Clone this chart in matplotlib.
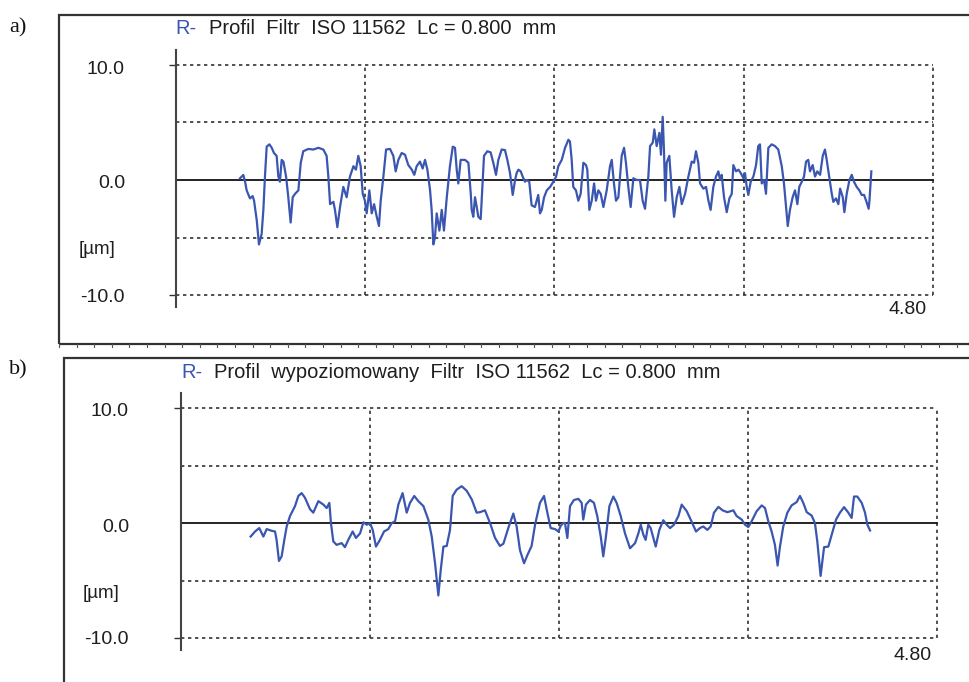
import matplotlib
matplotlib.use("Agg")
import matplotlib.pyplot as plt
from matplotlib.patches import Rectangle
from matplotlib.lines import Line2D

# ---------------- data ----------------
# Panel a: R-profile (Filtr ISO 11562, Lc = 0.800 mm); x in mm, z in µm
xa = [0.406, 0.427, 0.438, 0.448, 0.469, 0.486, 0.495, 0.512, 0.526, 0.543, 0.554, 0.564,
      0.575, 0.592, 0.607, 0.621, 0.638, 0.649, 0.659, 0.670, 0.681, 0.698, 0.712, 0.727,
      0.740, 0.755, 0.776, 0.791, 0.807, 0.839, 0.871, 0.903, 0.934, 0.955, 0.966, 0.977,
      0.998, 1.008, 1.023, 1.040, 1.061, 1.082, 1.103, 1.125, 1.141, 1.156, 1.171, 1.184,
      1.198, 1.209, 1.226, 1.241, 1.256, 1.273, 1.287, 1.298, 1.315, 1.332, 1.357, 1.378,
      1.393, 1.410, 1.431, 1.452, 1.473, 1.495, 1.511, 1.526, 1.547, 1.564, 1.579, 1.594,
      1.611, 1.621, 1.632, 1.642, 1.653, 1.670, 1.685, 1.699, 1.717, 1.737, 1.755, 1.769,
      1.780, 1.790, 1.805, 1.833, 1.854, 1.869,
      1.875, 1.885, 1.896, 1.907, 1.917, 1.932, 1.945, 1.953, 1.974, 1.995, 2.012, 2.029,
      2.044, 2.065, 2.086, 2.101, 2.118, 2.135, 2.150, 2.160, 2.171, 2.186, 2.198, 2.213,
      2.224, 2.240, 2.255, 2.276, 2.297, 2.308, 2.319, 2.334, 2.351, 2.372, 2.393, 2.410,
      2.424, 2.446, 2.467, 2.488, 2.498, 2.509, 2.519, 2.536, 2.551, 2.566, 2.583, 2.600,
      2.608, 2.621, 2.636, 2.651, 2.663, 2.678, 2.693, 2.710, 2.731, 2.752, 2.763, 2.777,
      2.790, 2.805, 2.826, 2.841, 2.853, 2.868, 2.883, 2.900, 2.921, 2.942, 2.959, 2.974,
      2.995, 3.006, 3.023, 3.033, 3.048, 3.065, 3.075, 3.086, 3.094, 3.103, 3.111, 3.128,
      3.143, 3.158, 3.175, 3.192, 3.207, 3.228, 3.249, 3.270, 3.285, 3.297, 3.312, 3.323,
      3.344, 3.361, 3.376, 3.390, 3.407, 3.424, 3.439, 3.450, 3.460, 3.475, 3.492, 3.509,
      3.524, 3.534, 3.551, 3.566, 3.581, 3.598, 3.608, 3.619, 3.629, 3.644, 3.661, 3.678,
      3.692, 3.703, 3.714, 3.729, 3.741, 3.756, 3.777, 3.798, 3.819, 3.841, 3.855, 3.868,
      3.879, 3.893, 3.910, 3.925, 3.940, 3.952, 3.968, 3.982, 3.995, 4.009, 4.020, 4.037,
      4.052, 4.066, 4.084, 4.101, 4.115, 4.126, 4.143, 4.158, 4.168, 4.185, 4.200, 4.211,
      4.228, 4.238, 4.253, 4.270, 4.285, 4.299, 4.316, 4.333, 4.348, 4.363, 4.376, 4.392,
      4.397, 4.409]
za = [0.15, 0.44, -0.15, -0.9, -1.6, -1.4, -1.8, -3.5, -5.6, -4.7, -2.6, 0.3,
      2.9, 3.1, 2.8, 2.35, 2.1, 0.3, -0.15, 1.75, 1.6, 0.3, -1.5, -3.7,
      -1.5, -1.2, -0.9, 1.5, 2.5, 2.7, 2.65, 2.8, 2.65, 2.1, 0.3, -2.1,
      -1.9, -2.6, -4.1, -2.35, -0.6, -1.5, 0.3, 1.2, 0.9, 2.1, 1.2, -1.2,
      -1.8, -2.9, -0.9, -2.9, -2.1, -3.2, -4.0, -1.8, 0.3, 2.65, 2.7, 2.1,
      0.75, 1.75, 2.35, 2.2, 1.3, 0.9, 0.45, 1.2, 1.6, 1.0, 1.75, 0.9,
      -0.9, -2.6, -5.6, -5.0, -2.9, -4.4, -2.6, -4.4, -1.5, 1.2, 2.9, 2.8,
      0.9, -0.3, 1.75, 1.75, 1.5, -1.2,
      -2.6, -3.2, -1.5, -2.35, -3.2, -3.4, 0.0, 2.1, 2.5, 2.4, 1.5, 0.45,
      1.75, 2.65, 2.6, 1.75, 0.6, -1.3, 0.0, 0.6, 0.9, 0.75, 0.3, -0.15,
      0.0, -0.15, -2.2, -2.35, -1.3, -2.9, -2.6, -1.5, -0.9, -0.6, -0.15, 0.3,
      1.2, 1.75, 2.8, 3.5, 3.35, 1.75, -0.6, -0.9, -1.8, -1.2, 1.5, 1.3,
      0.9, -2.6, -1.8, -0.3, -1.8, -0.9, -1.2, -2.35, -0.9, 1.2, 1.75, -0.3,
      -1.8, -1.5, 2.1, 2.8, 1.5, -0.6, -2.35, 0.15, 0.0, 0.0, -1.8, -2.5,
      0.3, 2.95, 3.25, 4.4, 2.95, 4.1, 2.2, 5.5, 2.65, -1.8, 1.5, 2.1,
      -0.9, -3.2, -1.5, -0.6, -2.1, -1.2, 0.3, 1.6, 1.5, 2.5, 1.5, -0.3,
      -0.75, -0.6, -1.8, -2.6, -0.6, 0.3, 0.75, 0.0, 0.45, -1.5, -2.8, -1.6,
      -1.2, 1.3, 0.75, 0.9, 0.6, 0.15, 0.6, -0.6, -1.3, -0.15, 0.3, 1.3,
      2.95, 3.1, -0.3, 0.0, -1.2, 2.8, 3.1, 2.95, 2.65, 1.2, -0.3, -2.35,
      -4.0, -2.6, -1.5, -0.9, -2.1, -0.6, -0.15, 0.3, 1.6, 1.75, 0.75, 1.3,
      0.3, 0.75, 0.45, 2.1, 2.65, 1.75, 0.15, -1.2, -1.9, -1.6, -2.1, -0.75,
      -1.5, -2.8, -1.2, 0.0, 0.45, -0.15, -0.6, -0.9, -1.3, -1.3, -1.8, -2.5,
      -1.8, 0.75]

# Panel b: levelled R-profile (Profil wypoziomowany); x in mm, z in µm
xb = [0.442, 0.470, 0.497, 0.523, 0.544, 0.576, 0.597, 0.607, 0.622, 0.639, 0.656, 0.671,
      0.692, 0.724, 0.745, 0.766, 0.787, 0.819, 0.840, 0.872, 0.904, 0.925, 0.942, 0.952,
      0.967, 0.988, 1.020, 1.041, 1.062, 1.090, 1.111, 1.137, 1.158, 1.179, 1.200, 1.217,
      1.238, 1.263, 1.289, 1.316, 1.338, 1.359, 1.380, 1.407, 1.433, 1.454, 1.481, 1.507,
      1.539, 1.570, 1.592, 1.613, 1.634, 1.649, 1.666, 1.687, 1.708, 1.725, 1.750, 1.782,
      1.814, 1.846,
      1.877, 1.898, 1.930, 1.962, 1.994, 2.025, 2.047, 2.078, 2.110, 2.131, 2.152, 2.178,
      2.199, 2.226, 2.248, 2.279, 2.305, 2.326, 2.347, 2.375, 2.396, 2.411, 2.427, 2.438,
      2.453, 2.470, 2.495, 2.523, 2.544, 2.554, 2.571, 2.597, 2.622, 2.643, 2.665, 2.681,
      2.698, 2.720, 2.745, 2.766, 2.792, 2.819, 2.851, 2.883, 2.904, 2.919, 2.935, 2.950,
      2.967, 2.982, 2.999, 3.014, 3.037, 3.062, 3.084, 3.105, 3.130, 3.158, 3.179, 3.211,
      3.236, 3.270, 3.295,
      3.316, 3.342, 3.363, 3.384, 3.412, 3.439, 3.469, 3.507, 3.528, 3.560, 3.581, 3.602,
      3.623, 3.655, 3.687, 3.708, 3.729, 3.750, 3.771, 3.788, 3.803, 3.824, 3.850, 3.877,
      3.909, 3.930, 3.951, 3.973, 4.004, 4.025, 4.040, 4.061, 4.083, 4.110, 4.131, 4.159,
      4.184, 4.210, 4.237, 4.258, 4.273, 4.294, 4.322, 4.343, 4.358, 4.375]
zb = [-1.18, -0.74, -0.44, -1.18, -0.53, -0.68, -0.74, -1.47, -3.3, -2.9, -1.47, -0.3,
      0.6, 1.47, 2.35, 2.6, 2.2, 1.2, 0.9, 1.9, 1.6, 1.3, 1.75, 0.0,
      -1.6, -1.9, -1.75, -2.1, -1.47, -0.74, -1.3, -0.9, 0.06, -0.15, 0.0, -0.6,
      -2.05, -1.47, -0.74, -0.53, 0.0, 0.15, 1.6, 2.6, 0.9, 1.75, 2.35, 1.9,
      1.47, 0.3, -1.18, -3.5, -6.3, -4.1, -2.05, -2.0, -0.6, 2.35, 2.9, 3.2,
      2.8, 2.05,
      0.9, 0.94, 1.1, 0.0, -1.3, -2.0, -1.8, -0.44, 0.82, -0.3, -2.35, -3.5,
      -2.8, -2.0, -0.15, 1.75, 2.35, 0.9, -0.44, -0.53, -0.74, -0.24, 0.0, 0.0,
      -1.3, 1.47, 2.0, 2.1, 1.75, 0.3, 1.6, 2.0, 1.75, 0.6, -1.18, -2.9,
      -1.18, 1.47, 2.3, 1.75, 0.6, -0.9, -2.2, -1.75, -0.9, -0.15, -1.0, -1.47,
      -0.15, -0.44, -1.3, -2.05, -0.6, 0.24, -0.15, -0.44, -0.15, 0.6, 1.6, 1.03,
      0.3, -0.74, -0.44,
      -0.3, -0.6, -0.3, 0.9, 1.4, 1.1, 0.94, 1.1, 0.6, 0.3, -0.15, -0.35,
      0.15, 1.03, 1.53, 1.3, 0.15, -0.74, -1.9, -3.7, -2.05, -0.3, 0.9, 1.53,
      1.82, 2.35, 1.75, 0.94, 0.65, 0.0, -1.6, -4.6, -2.1, -2.05, -1.03, 0.3,
      0.9, 1.38, 0.9, 0.44, 2.3, 2.3, 1.75, 0.9, -0.15, -0.65]

x_grid = [0.0, 1.2, 2.4, 3.6, 4.8]
y_grid = [-10.0, -5.0, 5.0, 10.0]
y_labels = [(10.0, "10.0"), (0.0, "0.0"), (-10.0, "-10.0")]
titles = ["Profil  Filtr  ISO 11562  Lc = 0.800  mm",
          "Profil  wypoziomowany  Filtr  ISO 11562  Lc = 0.800  mm"]
panel_letters = ["a)", "b)"]
x_end_label = "4.80"
unit_label = "[µm]"

# ---------------- style ----------------
W, H = 970, 682
BLUE = "#3a56b0"
DARK = "#1e1e1e"
GRID = "#333333"
plt.rcParams['font.family'] = ['Liberation Sans', 'DejaVu Sans']

fig = plt.figure(figsize=(W / 100, H / 100), dpi=100)


def fx(px):
    return px / W


def fy(py):
    return 1 - py / H


def panel(ax_box, xs, zs, title, letter, frame, title_xy, letter_xy, lab_right, lab_y, unit_xy, end_xy):
    x0, y_top, x1, y_bot = ax_box
    ax = fig.add_axes([fx(x0), fy(y_bot), fx(x1) - fx(x0), fy(y_top) - fy(y_bot)])
    ax.set_xlim(0, 4.8)
    ax.set_ylim(-10, 10)
    for s in ax.spines.values():
        s.set_visible(False)
    ax.set_xticks([])
    ax.set_yticks([-10, 10])
    ax.tick_params(axis='y', length=5, width=1.0, color=GRID, labelleft=False, direction='out')
    ax.patch.set_alpha(0)
    dots = (0, (2, 2.2))
    for yv in y_grid:
        ax.plot([0, 4.8], [yv, yv], color=GRID, lw=1.2, ls=dots, clip_on=False, zorder=1)
    for xv in x_grid[1:]:
        ax.plot([xv, xv], [-10, 10], color=GRID, lw=1.2, ls=dots, clip_on=False, zorder=1)
    ax.plot([0, 4.8], [0, 0], color="#111111", lw=1.3, clip_on=False, zorder=2)
    ax.plot([0, 0], [-11.0, 11.3], color="#444444", lw=1.5, clip_on=False, zorder=2)
    ax.plot(xs, zs, color=BLUE, lw=1.6, zorder=3, solid_joinstyle='round')

    # frame
    fl, ft, fr, fb = frame
    fig.patches.append(Rectangle((fx(fl), fy(fb)), fx(fr) - fx(fl), fy(ft) - fy(fb),
                                 transform=fig.transFigure, fill=False,
                                 edgecolor="#333333", lw=1.6, clip_on=False))
    # title
    fig.text(fx(title_xy[0]), fy(title_xy[1]), "R-", color=BLUE, fontsize=14.5,
             ha='left', va='center')
    fig.text(fx(title_xy[2]), fy(title_xy[1]), title, color=DARK, fontsize=14.5,
             ha='left', va='center')
    fig.text(fx(letter_xy[0]), fy(letter_xy[1]), letter, color="#111111", fontsize=16,
             family=['Liberation Serif', 'DejaVu Serif'], ha='left', va='center')
    for (val, lab), py in zip(y_labels, lab_y):
        fig.text(fx(lab_right), fy(py), lab, color=DARK, fontsize=14, ha='right', va='center')
    fig.text(fx(unit_xy[0]), fy(unit_xy[1]), unit_label, color=DARK, fontsize=13.5, ha='left', va='center')
    fig.text(fx(end_xy[0]), fy(end_xy[1]), x_end_label, color=DARK, fontsize=14, ha='right', va='center')
    return ax


panel((176, 65, 933, 295), xa, za, titles[0], panel_letters[0],
      frame=(59, 15, 990, 344), title_xy=(175, 28, 209), letter_xy=(9, 28),
      lab_right=125, lab_y=(69, 183, 297), unit_xy=(79, 250), end_xy=(927, 310))
panel((181, 408, 937, 638), xb, zb, titles[1], panel_letters[1],
      frame=(64, 358, 990, 700), title_xy=(181, 372, 214), letter_xy=(9, 370),
      lab_right=129, lab_y=(411, 527, 640), unit_xy=(83, 593), end_xy=(932, 655))

# small ruler ticks under the bottom edge of frame a
for i in range(52):
    px = 59 + i * 17.6
    fig.add_artist(Line2D([fx(px), fx(px)], [fy(344), fy(347)], transform=fig.transFigure,
                          color="#555555", lw=0.8))

fig.savefig("out.png", dpi=100, facecolor="white")
